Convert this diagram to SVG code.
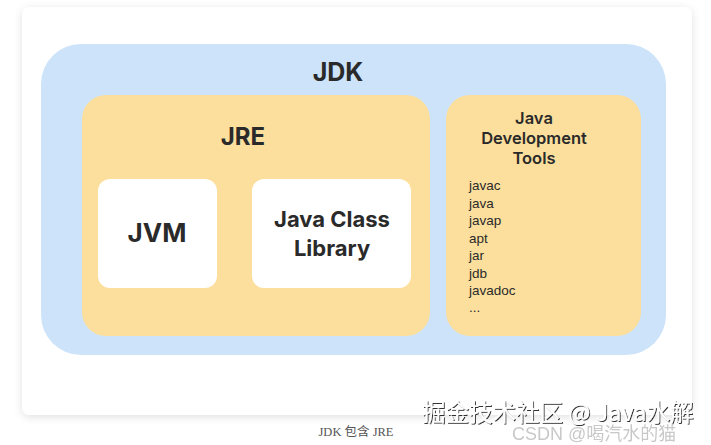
<svg xmlns="http://www.w3.org/2000/svg" width="711" height="445" viewBox="0 0 711 445">
<defs>
<filter id="sh" x="-10%" y="-10%" width="120%" height="120%">
<feDropShadow dx="0" dy="2" stdDeviation="4" flood-color="#000" flood-opacity="0.12"/>
</filter>
<filter id="wm" x="-5%" y="-30%" width="110%" height="160%">
<feDropShadow dx="1" dy="1" stdDeviation="0.6" flood-color="#000" flood-opacity="0.8"/>
</filter>
<style>
.t{font-family:Inter,"Liberation Sans","Noto Sans",sans-serif;fill:#2a2a2a;text-anchor:middle}
.b{font-weight:700}
.s{font-weight:600}
.l{font-family:"Liberation Sans",Arial,sans-serif;fill:#2a2a2a;font-size:13.5px}
.jdk{fill:#cde3f9}
.org{fill:#fcdf9d}
.wht{fill:#fff}
</style>
</defs>
<rect width="711" height="445" fill="#fff"/>
<rect x="22" y="7" width="670" height="408" rx="8" fill="#fff" filter="url(#sh)"/>
<g id="jdk">
<rect class="jdk" x="41" y="44" width="625" height="311" rx="40"/>
<text class="t b" x="338" y="81" font-size="25">JDK</text>
</g>
<g id="jre">
<rect class="org" x="82" y="95" width="348" height="241" rx="24"/>
<text class="t b" x="243" y="145" font-size="24">JRE</text>
</g>
<g id="jvm">
<rect class="wht" x="98" y="179" width="119" height="109" rx="12"/>
<text class="t b" x="157" y="242" font-size="26">JVM</text>
</g>
<g id="jcl">
<rect class="wht" x="252" y="179" width="159" height="109" rx="12"/>
<text class="t b" x="332" y="227" font-size="22">Java Class</text>
<text class="t b" x="332" y="256" font-size="22">Library</text>
</g>
<g id="tools">
<rect class="org" x="446" y="95" width="195" height="241" rx="24"/>
<text class="t s" x="534" y="124" font-size="16.5">Java</text>
<text class="t s" x="534" y="144" font-size="16.5">Development</text>
<text class="t s" x="534" y="164" font-size="16.5">Tools</text>
<text class="l" x="469" y="190">javac</text>
<text class="l" x="469" y="207.5">java</text>
<text class="l" x="469" y="225">javap</text>
<text class="l" x="469" y="242.5">apt</text>
<text class="l" x="469" y="260">jar</text>
<text class="l" x="469" y="277.5">jdb</text>
<text class="l" x="469" y="295">javadoc</text>
<text class="l" x="469" y="312">...</text>
</g>
<g id="connectors"></g>
<text x="356" y="436" font-family="'Liberation Serif','Noto Sans CJK SC',serif" font-size="12.5" fill="#555" text-anchor="middle">JDK 包含 JRE</text>
<text x="512" y="440" font-family="'Liberation Sans','Noto Sans CJK SC',sans-serif" font-size="18" fill="#bbb" opacity="0.8">CSDN @喝汽水的猫</text>
<text x="422" y="421" font-family="'Noto Sans CJK SC',sans-serif" font-size="23.5" fill="#fff" filter="url(#wm)">掘金技术社区 @ Java水解</text>
</svg>
